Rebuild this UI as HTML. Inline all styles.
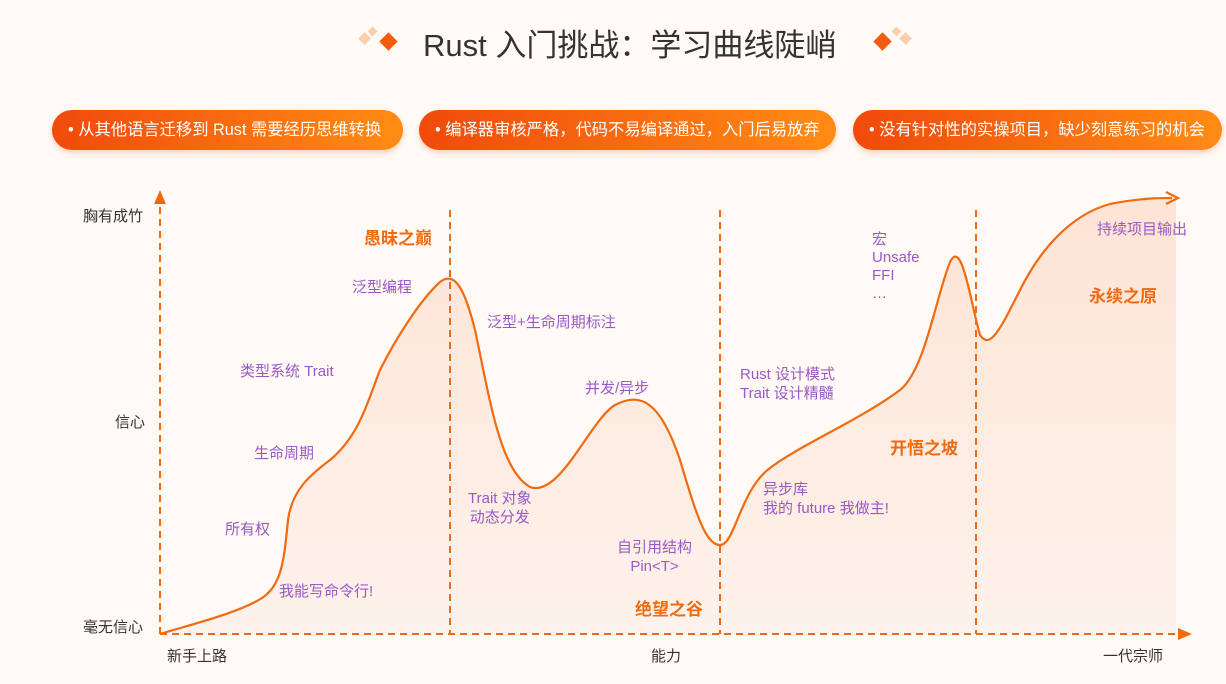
<!DOCTYPE html>
<html><head><meta charset="utf-8"><style>
body{margin:0;width:1226px;height:684px;background:#fffaf6;font-family:"Liberation Sans","Noto Sans CJK SC",sans-serif;position:relative;overflow:hidden}
.t{position:absolute;white-space:nowrap}
.pill{position:absolute;top:110px;height:40px;border-radius:20px;background:linear-gradient(90deg,#f04a0c,#ff8c14);color:#fff;font-size:16.3px;line-height:40px;box-shadow:0 3px 6px rgba(240,90,20,.25)}
.p{color:#9b59c6;font-size:15px}
.o{color:#f06a10;font-size:17px;font-weight:bold}
.k{color:#333;font-size:15px}
</style></head><body>
<div class="t" style="left:423px;top:20px;font-size:31px;color:#333">Rust 入门挑战：学习曲线陡峭</div>
<svg width="1226" height="684" style="position:absolute;left:0;top:0">
<rect x="360" y="34" width="9" height="9" fill="#fbcfae" transform="rotate(45 364.5 38.5)"/>
<rect x="369" y="28" width="7" height="7" fill="#fbcfae" transform="rotate(45 372.5 31.5)"/>
<rect x="382" y="35" width="13" height="13" fill="#f25c0e" transform="rotate(45 388.5 41.5)"/>
<rect x="876" y="35" width="13" height="13" fill="#f25c0e" transform="rotate(45 882.5 41.5)"/>
<rect x="893" y="28" width="7" height="7" fill="#fbcfae" transform="rotate(45 896.5 31.5)"/>
<rect x="901" y="34" width="9" height="9" fill="#fbcfae" transform="rotate(45 905.5 38.5)"/>
<defs><linearGradient id="g" x1="0" y1="0" x2="0" y2="1"><stop offset="0" stop-color="#fde0cf"/><stop offset="1" stop-color="#fdf1ea"/></linearGradient></defs>
<path d="M160,634 C200,622 240,612 262,598 C282,585 284,560 288,520 C292,490 310,475 330,460 C360,435 368,400 380,370 C395,340 420,300 440,282 C455,270 465,290 475,330 C490,400 500,470 530,487 C560,498 590,420 615,405 C640,392 660,400 680,460 C695,510 705,545 720,545 C735,545 740,490 770,468 C800,445 860,420 900,390 C925,370 935,300 950,262 C962,238 970,300 980,335 C990,350 1000,330 1020,290 C1040,250 1070,215 1110,204 C1140,198 1160,198 1176,198 L1176,634 Z" fill="url(#g)" opacity=".85"/>
<g stroke="#f06a10" stroke-width="2" stroke-dasharray="7,5" fill="none">
<line x1="160" y1="634" x2="160" y2="200"/><line x1="160" y1="634" x2="1180" y2="634"/>
<line x1="450" y1="210" x2="450" y2="634"/><line x1="720" y1="210" x2="720" y2="634"/><line x1="976" y1="210" x2="976" y2="634"/>
</g>
<polygon points="160,190 154,204 166,204" fill="#f06a10"/>
<polygon points="1192,634 1178,628 1178,640" fill="#f06a10"/>
<path d="M160,634 C200,622 240,612 262,598 C282,585 284,560 288,520 C292,490 310,475 330,460 C360,435 368,400 380,370 C395,340 420,300 440,282 C455,270 465,290 475,330 C490,400 500,470 530,487 C560,498 590,420 615,405 C640,392 660,400 680,460 C695,510 705,545 720,545 C735,545 740,490 770,468 C800,445 860,420 900,390 C925,370 935,300 950,262 C962,238 970,300 980,335 C990,350 1000,330 1020,290 C1040,250 1070,215 1110,204 C1140,198 1160,198 1172,198" fill="none" stroke="#f06a10" stroke-width="2.2"/>
<path d="M1166,192 L1178,198 L1166,204" fill="none" stroke="#f06a10" stroke-width="2.2"/>
</svg>
<div class="pill" style="left:52px;width:351px;padding-left:16px;box-sizing:border-box">• 从其他语言迁移到 Rust 需要经历思维转换</div>
<div class="pill" style="left:419px;width:417px;padding-left:16px;box-sizing:border-box">• 编译器审核严格，代码不易编译通过，入门后易放弃</div>
<div class="pill" style="left:853px;width:369px;padding-left:16px;box-sizing:border-box">• 没有针对性的实操项目，缺少刻意练习的机会</div>
<div class="t k" style="left:83px;top:205px">胸有成竹</div>
<div class="t k" style="left:115px;top:411px">信心</div>
<div class="t k" style="left:83px;top:616px">毫无信心</div>
<div class="t k" style="left:167px;top:645px">新手上路</div>
<div class="t k" style="left:651px;top:645px">能力</div>
<div class="t k" style="left:1103px;top:645px">一代宗师</div>
<div class="t o" style="left:364px;top:224px">愚昧之巅</div>
<div class="t o" style="left:635px;top:595px">绝望之谷</div>
<div class="t o" style="left:890px;top:434px">开悟之坡</div>
<div class="t o" style="left:1089px;top:282px">永续之原</div>
<div class="t p" style="left:352px;top:276px">泛型编程</div>
<div class="t p" style="left:240px;top:360px">类型系统 Trait</div>
<div class="t p" style="left:254px;top:442px">生命周期</div>
<div class="t p" style="left:225px;top:518px">所有权</div>
<div class="t p" style="left:279px;top:580px">我能写命令行!</div>
<div class="t p" style="left:487px;top:311px">泛型+生命周期标注</div>
<div class="t p" style="left:468px;top:489px;text-align:center;line-height:19px">Trait 对象<br>动态分发</div>
<div class="t p" style="left:585px;top:377px">并发/异步</div>
<div class="t p" style="left:617px;top:538px;text-align:center;line-height:19px">自引用结构<br>Pin&lt;T&gt;</div>
<div class="t p" style="left:740px;top:365px;line-height:19px">Rust 设计模式<br>Trait 设计精髓</div>
<div class="t p" style="left:763px;top:480px;line-height:19px">异步库<br>我的 future 我做主!</div>
<div class="t p" style="left:872px;top:231px;line-height:18px">宏<br>Unsafe<br>FFI<br>…</div>
<div class="t p" style="left:1097px;top:218px">持续项目输出</div>
</body></html>
